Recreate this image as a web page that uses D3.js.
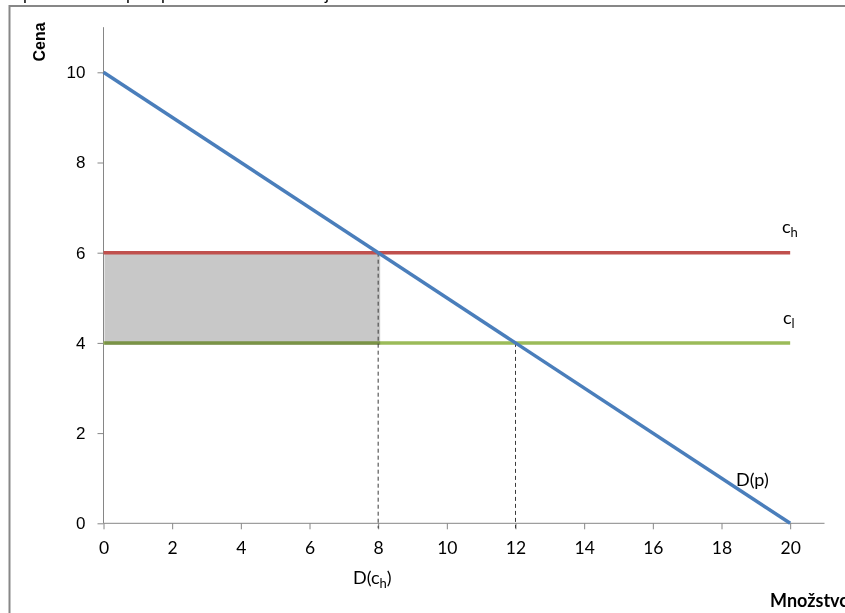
<!DOCTYPE html>
<html><head><meta charset="utf-8">
<script src="https://cdn.jsdelivr.net/npm/d3@7/dist/d3.min.js"></script>
<style>html,body{margin:0;padding:0;background:#fff;overflow:hidden}</style>
</head><body>
<script>
// Data
const xTicks = [0,2,4,6,8,10,12,14,16,18,20];
const yTicks = [0,2,4,6,8,10];
const demand = [{q:0,p:10},{q:20,p:0}];           // D(p)
const cHigh = 6, cLow = 4;                        // c_h, c_l
const hLineX = [0,20];
const shadeQ = [0,8], shadeP = [4,6];             // shaded rectangle
const dropLines = [{q:8,p:6},{q:12,p:4}];

const W = 845, H = 613;
const svg = d3.select("body").append("svg").attr("width",W).attr("height",H);

const x = d3.scaleLinear().domain([0,21]).range([103.5, 824.5]);
const y = d3.scaleLinear().domain([0,11]).range([523.3, 27.2]);

// outer frame
svg.append("rect").attr("x",9.5).attr("y",6).attr("width",W+20).attr("height",H+20)
  .attr("fill","none").attr("stroke","#878787").attr("stroke-width",2);

// cut-off text fragments at the top
[["p",23],["p",126],["p",161],["j",325]].forEach(d=>{
  svg.append("text").attr("x",d[1]).attr("y",0).attr("font-family","Lato, sans-serif")
    .attr("font-size",17).attr("fill","#000").text(d[0]);
});

// axes
const gx = svg.append("g").attr("transform",`translate(0,${y(0)})`)
  .call(d3.axisBottom(x).tickValues(xTicks).tickSize(6).tickPadding(12).tickSizeOuter(0));
gx.select(".domain").attr("stroke","#868686").attr("d",`M${x(0)},0H${x(21)}`);
gx.selectAll(".tick line").attr("stroke","#868686");
gx.selectAll(".tick text").attr("font-family","Lato, 'Open Sans', sans-serif").attr("font-size",17.5).attr("fill","#000");

const gy = svg.append("g").attr("transform",`translate(${x(0)},0)`)
  .call(d3.axisLeft(y).tickValues(yTicks).tickSize(6).tickPadding(12).tickSizeOuter(0));
gy.select(".domain").attr("stroke","#868686").attr("d",`M0,${y(0)}V${y(11)}`);
gy.selectAll(".tick line").attr("stroke","#868686");
gy.selectAll(".tick text").attr("font-family","'Liberation Sans', Arial, sans-serif").attr("font-size",17).attr("fill","#000");

// green line c_l
svg.append("line").attr("x1",x(hLineX[0])).attr("x2",x(hLineX[1]))
  .attr("y1",y(cLow)).attr("y2",y(cLow)).attr("stroke","#9bbb59").attr("stroke-width",3.5);

// shaded rect (multiply so the green underneath darkens)
svg.append("rect").attr("x",x(shadeQ[0])+1).attr("y",y(shadeP[1]))
  .attr("width",x(shadeQ[1])-x(shadeQ[0])+1).attr("height",y(shadeP[0])-y(shadeP[1])+2)
  .attr("fill","#c8c8c8").style("mix-blend-mode","multiply");

// red line c_h
svg.append("line").attr("x1",x(hLineX[0])).attr("x2",x(hLineX[1]))
  .attr("y1",y(cHigh)).attr("y2",y(cHigh)).attr("stroke","#c0504d").attr("stroke-width",3.5);

// dashed drop lines
svg.selectAll(".drop").data(dropLines).enter().append("line")
  .attr("x1",d=>x(d.q)).attr("x2",d=>x(d.q)).attr("y1",d=>y(d.p)).attr("y2",y(0)+5)
  .attr("stroke","#3a3a3a").attr("stroke-width",1).attr("stroke-dasharray","4,3");

// demand line
svg.append("path").datum(demand)
  .attr("d",d3.line().x(d=>x(d.q)).y(d=>y(d.p)))
  .attr("fill","none").attr("stroke","#4a7ebb").attr("stroke-width",3.5);

// labels
const lab = (xx,yy,main,sub,after,size)=>{
  const t = svg.append("text").attr("x",xx).attr("y",yy)
    .attr("font-family","Lato, 'Open Sans', sans-serif").attr("font-size",size||18).attr("fill","#000");
  t.append("tspan").text(main);
  if(sub){ t.append("tspan").attr("dy",4).attr("font-size",13).text(sub); }
  if(after){ t.append("tspan").attr("dy",-4).text(after); }
  return t;
};
lab(782,233,"c","h");
lab(783,324,"c","l");
lab(736,486,"D(p)");
lab(353,584,"D(c","h",")");

svg.append("text").attr("transform","translate(45,42) rotate(-90)").attr("text-anchor","middle")
  .attr("font-family","'Liberation Sans', Arial, sans-serif").attr("font-weight","bold")
  .attr("font-size",16).attr("fill","#000").text("Cena");

svg.append("text").attr("x",770).attr("y",607)
  .attr("font-family","Lato, 'Open Sans', sans-serif").attr("font-weight","bold")
  .attr("font-size",18).attr("fill","#000").text("Množstvo");
</script>
</body></html>
